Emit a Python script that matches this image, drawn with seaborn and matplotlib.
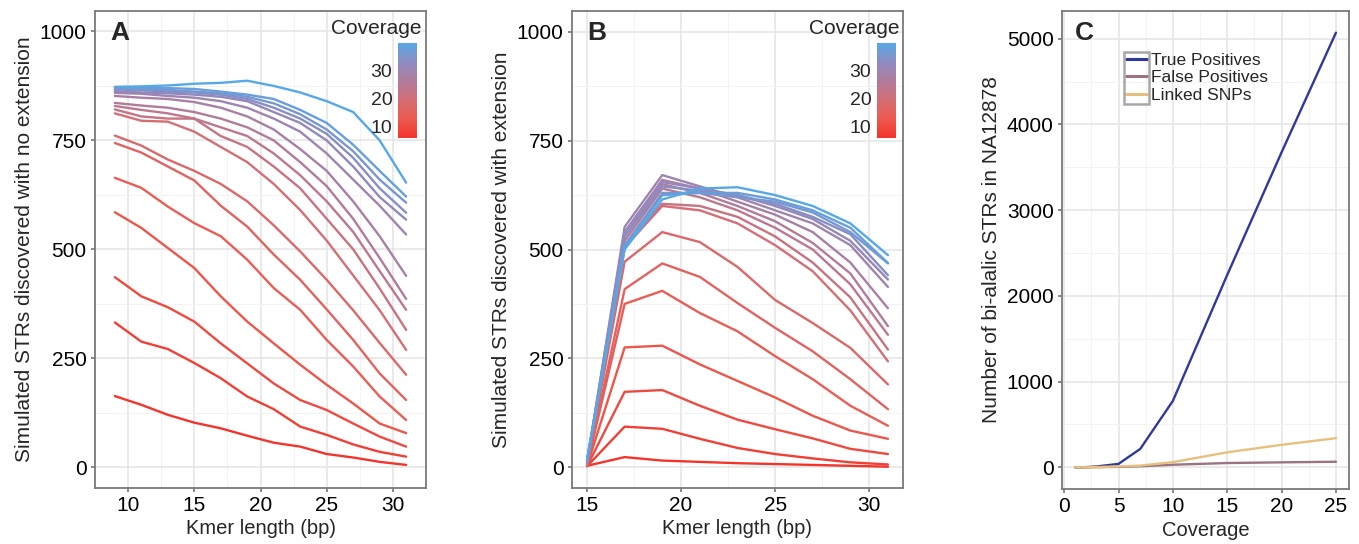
import numpy as np
import pandas as pd
import matplotlib
matplotlib.use("Agg")
import matplotlib.pyplot as plt
from matplotlib.colors import LinearSegmentedColormap, Normalize
from matplotlib.patches import Rectangle
import seaborn as sns

# ---------------- data ----------------
coverage_levels = [6, 8, 10, 12, 14, 16, 18, 20, 22, 24, 26, 28, 30, 32, 34, 36, 38, 40]

kmer_a = [9, 11, 13, 15, 17, 19, 21, 23, 25, 27, 29, 31]
# Panel A: simulated STRs discovered with no extension (one row per coverage level)
strs_no_ext = [
    [163, 143, 120, 102, 89, 72, 56, 47, 30, 22, 12, 5],
    [332, 288, 271, 239, 204, 162, 133, 93, 74, 52, 35, 24],
    [436, 392, 367, 334, 284, 238, 192, 154, 131, 100, 70, 47],
    [585, 549, 503, 457, 392, 334, 284, 235, 189, 146, 100, 78],
    [664, 641, 598, 560, 530, 476, 411, 361, 292, 231, 162, 108],
    [744, 722, 690, 658, 600, 552, 488, 430, 362, 292, 215, 154],
    [761, 738, 706, 680, 650, 610, 555, 495, 430, 360, 285, 212],
    [812, 795, 793, 770, 735, 700, 650, 590, 520, 440, 360, 269],
    [821, 805, 800, 800, 760, 735, 690, 640, 570, 500, 410, 315],
    [829, 820, 812, 800, 780, 760, 720, 670, 610, 540, 450, 361],
    [836, 830, 825, 815, 800, 780, 750, 700, 645, 570, 480, 386],
    [852, 848, 845, 838, 825, 805, 775, 730, 680, 610, 530, 439],
    [859, 857, 852, 848, 840, 825, 800, 770, 720, 660, 600, 534],
    [863, 860, 858, 855, 850, 840, 815, 790, 750, 690, 620, 568],
    [867, 865, 862, 860, 855, 845, 825, 800, 765, 710, 640, 584],
    [870, 868, 866, 862, 858, 850, 835, 810, 775, 725, 660, 607],
    [872, 870, 870, 868, 862, 855, 845, 820, 790, 740, 680, 621],
    [873, 874, 876, 880, 882, 887, 875, 860, 840, 815, 750, 653],
]

kmer_b = [15, 17, 19, 21, 23, 25, 27, 29, 31]
# Panel B: simulated STRs discovered with extension
strs_ext = [
    [3, 23, 15, 12, 9, 7, 5, 3, 1],
    [2, 93, 88, 65, 44, 30, 20, 11, 6],
    [2, 173, 177, 141, 109, 87, 66, 42, 30],
    [3, 275, 279, 236, 198, 160, 118, 84, 65],
    [4, 375, 405, 354, 312, 255, 202, 141, 95],
    [4, 409, 468, 437, 377, 320, 266, 202, 133],
    [5, 472, 540, 517, 460, 384, 331, 274, 190],
    [5, 505, 600, 590, 560, 510, 450, 360, 243],
    [6, 510, 605, 600, 575, 530, 470, 390, 270],
    [6, 520, 640, 620, 590, 550, 500, 420, 304],
    [8, 530, 650, 630, 600, 565, 515, 445, 324],
    [8, 540, 660, 640, 610, 580, 540, 470, 365],
    [10, 552, 671, 645, 620, 590, 560, 510, 414],
    [12, 540, 655, 640, 625, 600, 570, 520, 431],
    [14, 530, 645, 635, 625, 605, 575, 535, 441],
    [15, 510, 630, 630, 620, 610, 585, 540, 468],
    [16, 505, 625, 630, 630, 615, 590, 550, 469],
    [18, 500, 615, 640, 643, 625, 600, 560, 487],
]

coverage_c = [1, 2, 3, 5, 7, 10, 15, 20, 25]
true_positives = [0, 2, 10, 40, 215, 775, 2245, 3675, 5070]
false_positives = [0, 0, 2, 5, 12, 30, 50, 58, 65]
linked_snps = [0, 0, 3, 10, 20, 60, 175, 262, 340]
series_names = ["True Positives", "False Positives", "Linked SNPs"]
series_colors = ["#2E3A9B", "#9B7383", "#E8C07E"]

# ---------------- style ----------------
sns.set_theme(style="white")
plt.rcParams["font.family"] = ["Liberation Sans", "DejaVu Sans"]

cmap = LinearSegmentedColormap.from_list(
    "cov", ["#F4342B", "#EC5A4E", "#D56E73", "#B07C9C", "#8E8BC2", "#56A8E6"])
norm = Normalize(vmin=6, vmax=40)

W, H = 1359, 544
fig = plt.figure(figsize=(W / 100, H / 100), dpi=100)


def px_axes(x0, y0, x1, y1):
    return fig.add_axes([x0 / W, 1 - y1 / H, (x1 - x0) / W, (y1 - y0) / H])


axA = px_axes(95, 11, 426, 488)
axB = px_axes(572, 11, 903, 488)
axC = px_axes(1062, 11, 1349, 489)


def long_df(kmers, rows):
    recs = []
    for cov, vals in zip(coverage_levels, rows):
        for k, v in zip(kmers, vals):
            recs.append({"kmer": k, "count": v, "coverage": cov})
    return pd.DataFrame(recs)


dfA = long_df(kmer_a, strs_no_ext)
dfB = long_df(kmer_b, strs_ext)

sns.lineplot(data=dfA, x="kmer", y="count", hue="coverage", palette=cmap,
             hue_norm=norm, legend=False, lw=1.7, ax=axA, estimator=None,
             sort=True)
sns.lineplot(data=dfB, x="kmer", y="count", hue="coverage", palette=cmap,
             hue_norm=norm, legend=False, lw=1.7, ax=axB, estimator=None,
             sort=True)

dfC = pd.DataFrame({
    "coverage": coverage_c * 3,
    "count": true_positives + false_positives + linked_snps,
    "series": sum([[n] * len(coverage_c) for n in series_names], []),
})
sns.lineplot(data=dfC, x="coverage", y="count", hue="series",
             palette=dict(zip(series_names, series_colors)),
             hue_order=series_names, lw=1.7, ax=axC, estimator=None)


def style(ax, xlim, ylim, xt, xm, yt, ym):
    ax.set_xlim(*xlim)
    ax.set_ylim(*ylim)
    ax.set_xticks(xt)
    ax.set_xticks(xm, minor=True)
    ax.set_yticks(yt)
    ax.set_yticks(ym, minor=True)
    ax.grid(which="major", color="#E4E4E4", lw=1.1)
    ax.grid(which="minor", color="#F3F3F3", lw=0.7)
    ax.set_axisbelow(True)
    for s in ax.spines.values():
        s.set_color("#7A7A7A")
        s.set_linewidth(1.3)
    ax.tick_params(which="major", length=3, color="#7A7A7A", labelsize=15,
                   pad=3, labelcolor="black", bottom=True, left=True)
    ax.tick_params(which="minor", length=0)


style(axA, (7.9, 32.1), (-48, 1047), [10, 15, 20, 25, 30],
      [7.5, 12.5, 17.5, 22.5, 27.5, 32.5], [0, 250, 500, 750, 1000],
      [125, 375, 625, 875])
style(axB, (14.2, 31.8), (-48, 1048), [15, 20, 25, 30],
      [17.5, 22.5, 27.5], [0, 250, 500, 750, 1000], [125, 375, 625, 875])
style(axC, (-0.2, 26.2), (-253, 5323), [0, 5, 10, 15, 20, 25],
      [2.5, 7.5, 12.5, 17.5, 22.5], [0, 1000, 2000, 3000, 4000, 5000],
      [500, 1500, 2500, 3500, 4500])

axA.set_xlabel("Kmer length (bp)", fontsize=14.5)
axA.set_ylabel("Simulated STRs discovered with no extension", fontsize=15)
axB.set_xlabel("Kmer length (bp)", fontsize=14.5)
axB.set_ylabel("Simulated STRs discovered with extension", fontsize=15)
axC.set_xlabel("Coverage", fontsize=14.5)
axC.set_ylabel("Number of bi-alalic STRs in NA12878", fontsize=15)
for ax in (axA, axB, axC):
    ax.xaxis.labelpad = 3
    ax.yaxis.labelpad = 4

for ax, letter in ((axA, "A"), (axB, "B"), (axC, "C")):
    ax.text(0.045, 0.953, letter, transform=ax.transAxes, fontsize=19,
            fontweight="bold", va="center", ha="left")

# colorbars inside panels A and B
for (cx, tx) in ((398, 421), (877, 899)):
    cax = px_axes(cx, 43, cx + 19, 138)
    cb = fig.colorbar(plt.cm.ScalarMappable(norm=norm, cmap=cmap), cax=cax)
    cb.outline.set_visible(False)
    cb.set_ticks([10, 20, 30])
    cax.yaxis.set_ticks_position("left")
    cax.tick_params(length=0, labelsize=14, pad=4)
    fig.text(tx / W, 1 - 29 / H, "Coverage", fontsize=15, ha="right",
             va="center")

# legend panel C
axC.get_legend().remove()
handles, labels = axC.get_legend_handles_labels()
leg = axC.legend(handles, labels, loc="upper left",
                 bbox_to_anchor=(0.222, 0.912), frameon=False, fontsize=12.5,
                 handlelength=1.2, handletextpad=0.25, labelspacing=0.12,
                 borderpad=0, borderaxespad=0)
for ln in leg.get_lines():
    ln.set_linewidth(2.2)

fig.canvas.draw()
r = fig.canvas.get_renderer()
ext = [h.get_window_extent(r) for h in leg.get_lines()]
x0 = min(e.x0 for e in ext) - 2
x1 = max(e.x1 for e in ext) + 2
txt = [t.get_window_extent(r) for t in leg.get_texts()]
y0 = min(t.y0 for t in txt) - 1
y1 = max(t.y1 for t in txt) + 1
fig.patches.append(Rectangle((x0 / W, y0 / H), (x1 - x0) / W, (y1 - y0) / H,
                             transform=fig.transFigure, fill=False,
                             edgecolor="#A8A8A8", lw=1.8))

fig.savefig("out.png", dpi=100, facecolor="white")
